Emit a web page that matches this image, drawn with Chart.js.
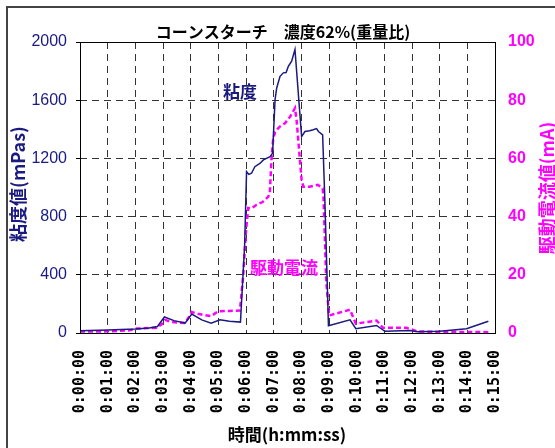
<!DOCTYPE html>
<html>
<head>
<meta charset="utf-8">
<script src="https://cdn.jsdelivr.net/npm/chart.js@4.4.1/dist/chart.umd.min.js"></script>
<style>
  html, body { margin: 0; padding: 0; background: #fff; }
  #wrap { width: 555px; height: 448px; position: relative; }
</style>
</head>
<body>
<div id="wrap"><canvas id="chart" width="555" height="448"></canvas></div>
<script>
// viscosity (mPas) vs elapsed minutes
const visTime = [0, 1.0, 2.0, 2.5, 2.8, 3.05, 3.4, 3.8, 4.04, 4.4, 4.74, 5.06, 5.4, 5.8, 5.95, 6.02,
  6.1, 6.2, 6.32, 6.5, 6.63, 6.87, 6.96, 7.05, 7.11, 7.23, 7.35, 7.45, 7.53, 7.65, 7.77,
  8.01, 8.13, 8.3, 8.43, 8.55, 8.62, 8.77, 8.85, 8.98, 9.76, 9.97, 10.72, 11.02, 11.93,
  12.2, 13.0, 13.97, 14.76];
const visValue = [15, 20, 28, 35, 45, 110, 85, 68, 130, 90, 68, 91, 80, 75, 600, 1109,
  1090, 1098, 1143, 1165, 1190, 1212, 1236, 1603, 1684, 1764, 1788, 1790, 1833, 1868, 1948,
  1350, 1385, 1390, 1397, 1405, 1385, 1362, 914, 50, 91, 29, 52, 12, 17,
  8, 12, 29, 81];

// drive current (mA) vs elapsed minutes
const curTime = [0, 0.84, 1.8, 2.0, 2.77, 2.95, 3.07, 3.3, 3.8, 4.04, 4.3, 4.74, 5.0, 5.4, 5.78,
  5.9, 6.0, 6.08, 6.2, 6.37, 6.6, 6.8, 6.86, 6.92, 6.98, 7.05, 7.23, 7.41, 7.6, 7.77,
  7.83, 8.01, 8.07, 8.3, 8.6, 8.77, 8.8, 8.85, 8.9, 9.0, 9.76, 9.97, 10.72, 10.95, 11.8,
  12.2, 14.76];
const curValue = [0.5, 0.5, 0.9, 1.5, 1.8, 3, 4.5, 3.8, 3.4, 7.2, 6.5, 5.8, 7.5, 7.6, 7.7,
  20, 35, 43, 42.8, 44, 45, 46.8, 48, 59.5, 66.4, 69.2, 71, 72.1, 74.4, 77.3,
  73, 52.6, 50.3, 50.3, 50.9, 49.7, 46.8, 33, 18, 6, 8, 3.2, 4.3, 1.8, 1.8,
  0.5, 0.3];

const timeLabels = ['0:00:00', '0:01:00', '0:02:00', '0:03:00', '0:04:00', '0:05:00', '0:06:00',
  '0:07:00', '0:08:00', '0:09:00', '0:10:00', '0:11:00', '0:12:00', '0:13:00', '0:14:00', '0:15:00'];

const NAVY = '#1a1a80';
const PINK = '#ff00ff';
const JP = '"Noto Sans CJK JP", sans-serif';

// titles, annotations and the outer frame
const decorations = {
  id: 'decorations',
  beforeDraw(chart) {
    const ctx = chart.ctx;
    ctx.save();
    ctx.strokeStyle = '#444';
    ctx.lineWidth = 2;
    ctx.beginPath();
    ctx.moveTo(7, 448);
    ctx.lineTo(7, 7);
    ctx.lineTo(555, 7);
    ctx.stroke();
    ctx.restore();
  },
  afterDraw(chart) {
    const ctx = chart.ctx;
    const a = chart.chartArea;
    ctx.save();
    ctx.strokeStyle = '#000';
    ctx.lineWidth = 1;
    ctx.strokeRect(Math.round(a.left) + 0.5, Math.round(a.top) + 0.5,
      Math.round(a.right - a.left), Math.round(a.bottom - a.top));

    ctx.textAlign = 'center';
    ctx.textBaseline = 'middle';
    ctx.fillStyle = '#000';
    ctx.font = 'bold 16px ' + JP;
    ctx.fillText('コーンスターチ　濃度62%(重量比)', 283, 32);
    ctx.font = 'bold 17px ' + JP;
    ctx.fillText('時間(h:mm:ss)', 287, 435);

    ctx.fillStyle = NAVY;
    ctx.fillText('粘度', 240, 92);
    ctx.fillStyle = PINK;
    ctx.fillText('駆動電流', 284, 268);

    ctx.save();
    ctx.font = 'bold 18px ' + JP;
    ctx.translate(18, 184);
    ctx.rotate(-Math.PI / 2);
    ctx.fillStyle = NAVY;
    ctx.fillText('粘度値(mPas)', 0, 0);
    ctx.restore();
    ctx.save();
    ctx.font = 'bold 18px ' + JP;
    ctx.translate(547, 188);
    ctx.rotate(-Math.PI / 2);
    ctx.fillStyle = PINK;
    ctx.fillText('駆動電流値(mA)', 0, 0);
    ctx.restore();
    ctx.restore();
  }
};

const ctx = document.getElementById('chart').getContext('2d');
new Chart(ctx, {
  type: 'line',
  data: {
    datasets: [
      {
        label: '粘度',
        data: visTime.map((t, i) => ({ x: t, y: visValue[i] })),
        yAxisID: 'y',
        borderColor: NAVY,
        borderWidth: 1.5,
        pointRadius: 0,
        tension: 0,
        order: 0
      },
      {
        label: '駆動電流',
        data: curTime.map((t, i) => ({ x: t, y: curValue[i] })),
        yAxisID: 'y2',
        borderColor: PINK,
        borderWidth: 2.5,
        borderDash: [5, 3],
        pointRadius: 0,
        tension: 0,
        order: 1
      }
    ]
  },
  options: {
    responsive: false,
    animation: false,
    layout: { padding: { top: 42, left: 0, right: 0, bottom: 0 } },
    plugins: {
      legend: { display: false },
      tooltip: { enabled: false }
    },
    scales: {
      x: {
        type: 'linear',
        min: 0,
        max: 15,
        afterFit: (s) => { s.height = 115; },
        ticks: {
          stepSize: 1,
          minRotation: 90,
          maxRotation: 90,
          padding: 17,
          color: '#000',
          font: { family: '"DejaVu Sans Mono"', weight: 'bold', size: 15 },
          callback: (v) => timeLabels[v]
        },
        grid: { color: '#333', lineWidth: 1, drawTicks: false },
        border: { display: false, dash: [7, 5] }
      },
      y: {
        position: 'left',
        min: 0,
        max: 2000,
        afterFit: (s) => { s.width = 80; },
        ticks: {
          stepSize: 400,
          padding: 9,
          color: NAVY,
          font: { family: '"Liberation Sans"', size: 16 },
          callback: (v) => String(v)
        },
        grid: { color: '#333', lineWidth: 1, tickLength: 4, tickColor: '#000', tickBorderDash: [] },
        border: { display: false, dash: [7, 5] }
      },
      y2: {
        position: 'right',
        min: 0,
        max: 100,
        afterFit: (s) => { s.width = 60; },
        ticks: {
          stepSize: 20,
          padding: 13,
          color: PINK,
          font: { family: '"Liberation Sans"', weight: 'bold', size: 16 },
          callback: (v) => String(v)
        },
        grid: { drawOnChartArea: false, drawTicks: false },
        border: { display: false }
      }
    }
  },
  plugins: [decorations]
});
</script>
</body>
</html>
